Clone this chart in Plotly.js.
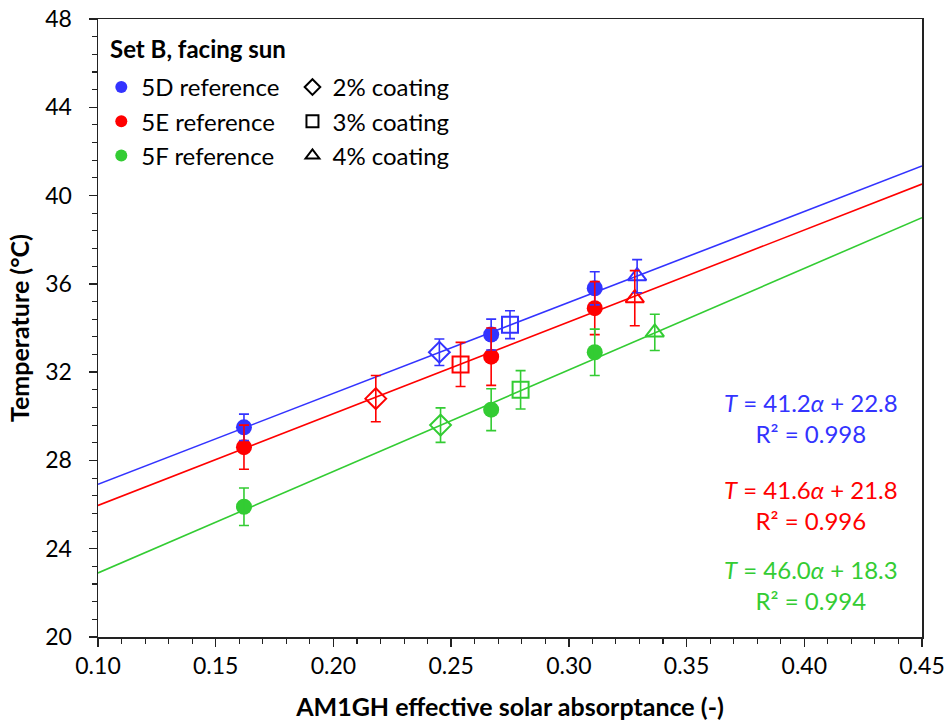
<!DOCTYPE html>
<html>
<head>
<meta charset="utf-8">
<script src="https://cdn.plot.ly/plotly-3.0.1.min.js"></script>
<style>html,body{margin:0;padding:0;background:#fff;}#chart{width:947px;height:726px;}</style>
</head>
<body>
<div id="chart"></div>
<script>
// ---- data ----
const refX = [0.162, 0.267, 0.311];
const dRefY = [29.5, 33.7, 35.8];
const dRefErr = [0.6, 0.7, 0.75];
const eRefY = [28.6, 32.7, 34.9];
const eRefErr = [1.0, 1.3, 1.2];
const fRefY = [25.9, 30.3, 32.9];
const fRefErr = [0.85, 0.95, 1.05];

const coatNames = ['2% coating', '3% coating', '4% coating'];
const dCoatX = [0.245, 0.275, 0.329];
const dCoatY = [32.9, 34.15, 36.35];
const dCoatErr = [0.6, 0.63, 0.75];
const eCoatX = [0.218, 0.254, 0.328];
const eCoatY = [30.8, 32.35, 35.35];
const eCoatErr = [1.05, 1.0, 1.25];
const fCoatX = [0.2455, 0.2795, 0.3365];
const fCoatY = [29.6, 31.2, 33.8];
const fCoatErr = [0.78, 0.87, 0.82];

const trendX = [0.10, 0.45];
const dTrendY = [26.92, 41.34];
const eTrendY = [25.96, 40.52];
const fTrendY = [22.90, 39.00];

const seriesNames = ['5D reference', '5E reference', '5F reference'];
const legendTitle = 'Set B, facing sun';
const equations = [
  '<i>T</i> = 41.2<i>α</i> + 22.8<br>R² = 0.998',
  '<i>T</i> = 41.6<i>α</i> + 21.8<br>R² = 0.996',
  '<i>T</i> = 46.0<i>α</i> + 18.3<br>R² = 0.994'
];
// --------------------------------------

const FONT = 'Lato, "Open Sans", sans-serif';
const colors = ['#3333FF', '#FF0000', '#33CC33'];
const coatSymbols = ['diamond-open', 'square-open', 'triangle-up-open'];

const sets = [
  {refY: dRefY, refErr: dRefErr, cx: dCoatX, cy: dCoatY, cerr: dCoatErr, ty: dTrendY},
  {refY: eRefY, refErr: eRefErr, cx: eCoatX, cy: eCoatY, cerr: eCoatErr, ty: eTrendY},
  {refY: fRefY, refErr: fRefErr, cx: fCoatX, cy: fCoatY, cerr: fCoatErr, ty: fTrendY}
];

const traces = [];
sets.forEach((s, i) => {
  traces.push({
    x: trendX, y: s.ty, mode: 'lines', showlegend: false, hoverinfo: 'skip',
    line: {color: colors[i], width: 1.6}
  });
});
sets.forEach((s, i) => {
  traces.push({
    x: s.cx, y: s.cy, mode: 'markers', showlegend: false,
    marker: {symbol: coatSymbols, size: 16, color: colors[i], line: {color: colors[i], width: 2}}
  });
  traces.push({
    x: refX, y: s.refY, mode: 'markers', name: seriesNames[i], legend: 'legend',
    legendgroup: 'r' + i,
    marker: {symbol: 'circle', size: 16, color: colors[i]}
  });
});
// error bars drawn on top of the markers
sets.forEach((s, i) => {
  const errStyle = {type: 'data', visible: true, color: colors[i], thickness: 1.6, width: 5};
  traces.push({
    x: s.cx, y: s.cy, mode: 'markers', showlegend: false, hoverinfo: 'skip',
    marker: {size: 1, color: 'rgba(0,0,0,0)'},
    error_y: Object.assign({array: s.cerr}, errStyle)
  });
  traces.push({
    x: refX, y: s.refY, mode: 'markers', showlegend: false, hoverinfo: 'skip',
    marker: {size: 1, color: 'rgba(0,0,0,0)'},
    error_y: Object.assign({array: s.refErr}, errStyle)
  });
});
coatNames.forEach((n, i) => {
  traces.push({
    x: [null], y: [null], mode: 'markers', name: n, legend: 'legend2',
    legendgroup: 'c' + i,
    marker: {symbol: coatSymbols[i], size: 13, color: '#000', line: {color: '#000', width: 2}}
  });
});

const annY = [0.354, 0.2136, 0.084];
const annotations = equations.map((t, i) => ({
  xref: 'paper', yref: 'paper', x: 0.865, y: annY[i], xanchor: 'center', yanchor: 'middle',
  text: t, showarrow: false, align: 'center',
  font: {family: FONT, size: 24, color: colors[i]}
}));
annotations.push({
  xref: 'paper', yref: 'paper', x: 0.012, y: 0.953, xanchor: 'left', yanchor: 'middle',
  text: '<b>' + legendTitle + '</b>', showarrow: false,
  font: {family: FONT, size: 24, color: '#000'}
});

const layout = {
  width: 947, height: 726,
  margin: {l: 98, r: 25, t: 19, b: 89},
  paper_bgcolor: '#fff', plot_bgcolor: '#fff',
  font: {family: FONT, color: '#000'},
  showlegend: true,
  xaxis: {
    range: [0.10, 0.45], dtick: 0.05, tick0: 0.10, tickformat: '.2f',
    showgrid: false, zeroline: false,
    showline: true, linecolor: '#222', linewidth: 1.5, mirror: true,
    ticks: 'outside', ticklen: 8, tickwidth: 1.3, tickcolor: '#222',
    minor: {dtick: 0.01, ticks: 'outside', ticklen: 5, tickwidth: 1.1, tickcolor: '#222', showgrid: false},
    tickfont: {family: FONT, size: 23},
    title: {text: '<b>AM1GH effective solar absorptance (-)</b>', font: {family: FONT, size: 25}, standoff: 20}
  },
  yaxis: {
    range: [20, 48], dtick: 4, tick0: 20,
    showgrid: false, zeroline: false,
    showline: true, linecolor: '#222', linewidth: 1.5, mirror: true,
    ticks: 'outside', ticklen: 8, tickwidth: 1.3, tickcolor: '#222',
    minor: {dtick: 0.8, ticks: 'outside', ticklen: 5, tickwidth: 1.1, tickcolor: '#222', showgrid: false},
    tickfont: {family: FONT, size: 23},
    ticklabelstandoff: 12,
    title: {text: '<b>Temperature (°C)</b>', font: {family: FONT, size: 25}, standoff: 8}
  },
  legend: {
    x: 0.004, y: 0.9256, xanchor: 'left', yanchor: 'top',
    bgcolor: 'rgba(0,0,0,0)', borderwidth: 0,
    font: {family: FONT, size: 24}, tracegroupgap: 0, itemsizing: 'constant'
  },
  legend2: {
    x: 0.236, y: 0.9256, xanchor: 'left', yanchor: 'top',
    bgcolor: 'rgba(0,0,0,0)', borderwidth: 0,
    font: {family: FONT, size: 24}, tracegroupgap: 0, itemsizing: 'constant'
  },
  annotations: annotations
};

Plotly.newPlot('chart', traces, layout, {displayModeBar: false, staticPlot: true});
</script>
</body>
</html>
